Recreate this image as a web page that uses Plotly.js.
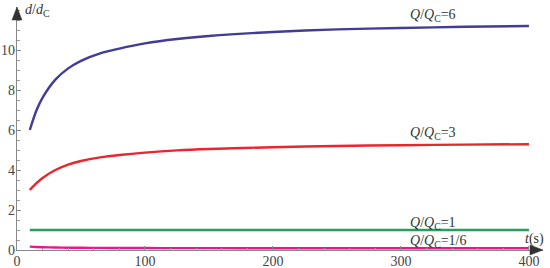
<!DOCTYPE html>
<html>
<head>
<meta charset="utf-8">
<script src="https://cdn.plot.ly/plotly-3.0.1.min.js"></script>
</head>
<body style="margin:0;background:#fff">
<div id="chart"></div>
<script>
// время, с
const tValues = [10, 15, 20, 30, 40, 50, 65, 80, 100, 125, 150, 200, 250, 300, 350, 400];

// d/dC для каждого Q/QC
const ratio6 = [6.0, 6.95, 7.62, 8.52, 9.08, 9.46, 9.83, 10.07, 10.33, 10.55, 10.7, 10.9, 11.03, 11.1, 11.16, 11.2];
const ratio3 = [3.0, 3.33, 3.6, 4.0, 4.27, 4.45, 4.63, 4.75, 4.87, 4.98, 5.05, 5.14, 5.2, 5.24, 5.27, 5.29];
const ratio1 = [1, 1, 1, 1, 1, 1, 1, 1, 1, 1, 1, 1, 1, 1, 1, 1];
const ratio1_6 = [0.17, 0.15, 0.14, 0.125, 0.115, 0.11, 0.105, 0.1, 0.097, 0.095, 0.093, 0.09, 0.088, 0.087, 0.086, 0.085];

const seriesLabels = ['=6', '=3', '=1', '=1/6'];
const seriesColors = ['#403c98', '#e8262b', '#1fa25a', '#e6198a'];

const xTicks = [0, 100, 200, 300, 400];
const yTicks = [0, 2, 4, 6, 8, 10];

const xMax = 411;
const yMax = 12.15;

const serif = 'Liberation Serif';

function curve(y, color) {
    return {
        x: tValues,
        y: y,
        type: 'scatter',
        mode: 'lines',
        line: { color: color, width: 2.4, shape: 'spline', smoothing: 0.8 },
        hoverinfo: 'skip'
    };
}

const data = [
    curve(ratio6, seriesColors[0]),
    curve(ratio3, seriesColors[1]),
    curve(ratio1, seriesColors[2]),
    curve(ratio1_6, seriesColors[3])
];

const qLabel = (s) => '<i>Q</i>/<i>Q</i><sub>C</sub>' + s;

function label(text, x, y) {
    return {
        text: text, x: x, y: y, xref: 'x', yref: 'y',
        showarrow: false,
        font: { family: serif, size: 14, color: '#333' }
    };
}

const annotations = [
    label(qLabel(seriesLabels[0]), 325, 11.75),
    label(qLabel(seriesLabels[1]), 325, 5.85),
    label(qLabel(seriesLabels[2]), 325, 1.35),
    label(qLabel(seriesLabels[3]), 329, 0.45),
    label('<i>t</i>(s)', 404, 0.55),
    label('<i>d</i>/<i>d</i><sub>C</sub>', 16, 12.0)
];

// наконечники осей: треугольники в долях области графика (526 x 243 px)
const W = 526, H = 243;
const shapes = [
    {
        type: 'path', xref: 'paper', yref: 'paper',
        path: 'M 1 0 L ' + (1 - 13 / W).toFixed(4) + ' ' + (5 / H).toFixed(4) +
              ' L ' + (1 - 13 / W).toFixed(4) + ' ' + (-5 / H).toFixed(4) + ' Z',
        fillcolor: '#333', line: { color: '#333', width: 0.5 }
    },
    {
        type: 'path', xref: 'paper', yref: 'paper',
        path: 'M 0 1 L ' + (5 / W).toFixed(4) + ' ' + (1 - 13 / H).toFixed(4) +
              ' L ' + (-5 / W).toFixed(4) + ' ' + (1 - 13 / H).toFixed(4) + ' Z',
        fillcolor: '#333', line: { color: '#333', width: 0.5 }
    }
];

const axisCommon = {
    showgrid: false,
    zeroline: false,
    showline: true,
    linecolor: '#888',
    linewidth: 1.2,
    ticks: 'inside',
    ticklen: 4,
    tickcolor: '#888',
    tickfont: { family: serif, size: 14, color: '#444' }
};

const layout = {
    width: 550,
    height: 268,
    margin: { l: 17, r: 7, t: 7, b: 18 },
    paper_bgcolor: '#fff',
    plot_bgcolor: '#fff',
    showlegend: false,
    xaxis: Object.assign({}, axisCommon, {
        range: [0, xMax],
        tickvals: xTicks,
        ticktext: xTicks.map(String),
        ticklabelstandoff: -2,
        minor: { dtick: 20, ticks: 'inside', ticklen: 2.5, tickcolor: '#999' }
    }),
    yaxis: Object.assign({}, axisCommon, {
        range: [0, yMax],
        tickvals: yTicks,
        ticktext: yTicks.map(String),
        ticklabelstandoff: -2,
        minor: { dtick: 0.5, ticks: 'inside', ticklen: 2.5, tickcolor: '#999' }
    }),
    annotations: annotations,
    shapes: shapes
};

Plotly.newPlot('chart', data, layout, { displayModeBar: false, staticPlot: true });
</script>
</body>
</html>
